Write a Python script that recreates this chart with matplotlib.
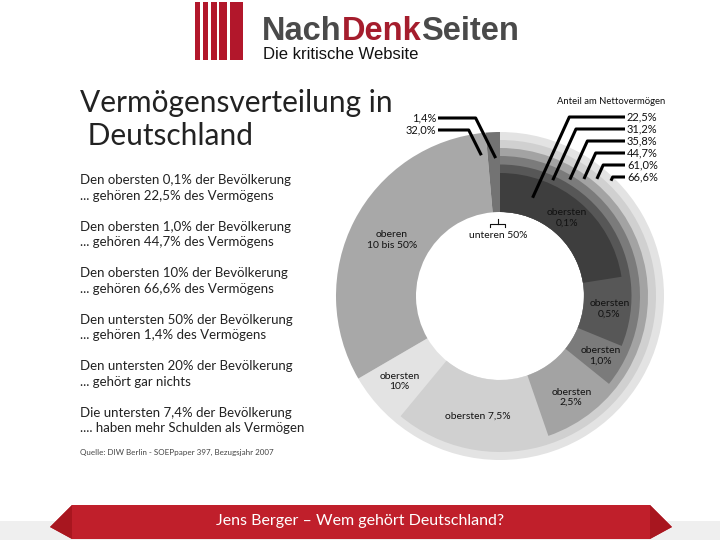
import numpy as np
import matplotlib
matplotlib.use("Agg")
import matplotlib.pyplot as plt
from matplotlib.patches import Rectangle, Polygon

plt.rcParams['font.family'] = ['Lato', 'DejaVu Sans']

# --- data ---
top_labels = ["obersten\n0,1%", "obersten\n0,5%", "obersten\n1,0%",
              "obersten\n2,5%", "obersten 7,5%", "obersten\n10%"]
top_cum = [22.5, 31.2, 35.8, 44.7, 61.0, 66.6]          # Anteil am Nettovermögen (kumuliert)
top_cum_text = ["22,5%", "31,2%", "35,8%", "44,7%", "61,0%", "66,6%"]
rest_labels = ["oberen\n10 bis 50%", "unteren 50%"]
rest_share = [32.0, 1.4]
rest_text = ["32,0%", "1,4%"]

facts = [
    ("Den obersten 0,1% der Bevölkerung", "... gehören 22,5% des Vermögens"),
    ("Den obersten 1,0% der Bevölkerung", "... gehören 44,7% des Vermögens"),
    ("Den obersten 10% der Bevölkerung", "... gehören 66,6% des Vermögens"),
    ("Den untersten 50% der Bevölkerung", "... gehören 1,4% des Vermögens"),
    ("Den untersten 20% der Bevölkerung", "... gehört gar nichts"),
    ("Die untersten 7,4% der Bevölkerung", ".... haben mehr Schulden als Vermögen"),
]
source = "Quelle: DIW Berlin - SOEPpaper 397, Bezugsjahr 2007"

# --- styling ---
top_colors = ['#3e3e3e', '#575757', '#7b7b7b', '#a3a3a3', '#d0d0d0', '#e3e3e3']
rest_colors = ['#a8a8a8', '#737373']
r_in = 84
radii = [123, 131.5, 140, 148, 156, 164]

fig = plt.figure(figsize=(7.2, 5.4), dpi=100)
bg = fig.add_axes([0, 0, 1, 1])
bg.set_xlim(0, 720)
bg.set_ylim(540, 0)
bg.axis('off')

# logo
for x0, x1 in [(195, 200), (202.7, 207.7), (210.7, 216.7), (219.3, 227.3), (230, 243.3)]:
    bg.add_patch(Rectangle((x0, 2), x1 - x0, 58, color='#b2172b', lw=0))
fig.canvas.draw()
renderer = fig.canvas.get_renderer()
x = 262
for word, col in [("Nach", '#4a4a4a'), ("Denk", '#a51d2d'), ("Seiten", '#4a4a4a')]:
    t = bg.text(x, 40, word, family=['Liberation Sans', 'DejaVu Sans'], weight='bold',
                fontsize=23.5, color=col, va='baseline', ha='left')
    bb = t.get_window_extent(renderer)
    x += bb.width
bg.text(263, 59, "Die kritische Website", family=['Liberation Sans', 'DejaVu Sans'],
        fontsize=12, color='#111111', va='baseline', ha='left')

# title
bg.text(80, 103, "Vermögensverteilung in", fontsize=21.5, color='#222222', va='center')
bg.text(80, 136, " Deutschland", fontsize=21.5, color='#222222', va='center')

# facts list
for i, (l1, l2) in enumerate(facts):
    y = 180 + i * 46.6
    bg.text(80, y, l1, fontsize=9.5, color='#222222', va='center')
    bg.text(80, y + 15.5, l2, fontsize=9.5, color='#222222', va='center')
bg.text(80, 452, source, fontsize=5.8, color='#444444', va='center')

# bottom banner
bg.add_patch(Rectangle((0, 521), 720, 19, color='#efefef', lw=0))
bg.add_patch(Polygon([(72, 505), (650, 505), (672, 527), (650, 539), (72, 539), (50, 527)],
                     closed=True, color='#c01f2b', lw=0))
bg.add_patch(Polygon([(72, 505), (50, 527), (72, 539)], closed=True, color='#a8161f', lw=0))
bg.add_patch(Polygon([(650, 505), (672, 527), (650, 539)], closed=True, color='#a8161f', lw=0))
bg.text(360, 521, "Jens Berger – Wem gehört Deutschland?", fontsize=11.5, color='white',
        ha='center', va='center')

# --- donut ---
cx, cy, half = 500, 296, 200
ax = fig.add_axes([(cx - half) / 720, (540 - cy - half) / 540, 2 * half / 720, 2 * half / 540])

# nested cumulative wedges: largest first, smaller on top
for k in reversed(range(len(top_cum))):
    ax.pie([top_cum[k], 100 - top_cum[k]], radius=radii[k], colors=[top_colors[k], (0, 0, 0, 0)],
           startangle=90, counterclock=False, wedgeprops=dict(width=radii[k] - r_in, linewidth=0))
ax.pie([top_cum[-1]] + rest_share, radius=radii[-1], colors=[(0, 0, 0, 0)] + rest_colors,
       startangle=90, counterclock=False, wedgeprops=dict(width=radii[-1] - r_in, linewidth=0))
ax.set_xlim(-half, half)
ax.set_ylim(-half, half)
ax.set_aspect('equal')
ax.axis('off')


def polar(frac, r):
    a = np.deg2rad(90 - 360 * frac / 100)
    return r * np.cos(a), r * np.sin(a)


# slice labels
starts = [0] + top_cum[:-1]
label_r = [103, 110, 117, 124, 122, 132]
for lab, s, e, r in zip(top_labels, starts, top_cum, label_r):
    px, py = polar((s + e) / 2, r)
    ax.text(px, py, lab, ha='center', va='center', fontsize=7.5, color='#111111', linespacing=1.2)
px, py = polar(top_cum[-1] + rest_share[0] / 2, 122)
ax.text(px, py, rest_labels[0], ha='center', va='center', fontsize=7.5, color='#111111', linespacing=1.2)
ax.text(-2, 60, rest_labels[1], ha='center', va='center', fontsize=7.5, color='#111111')
ax.plot([-10, -10, 5, 5], [69, 72, 72, 69], color='#111111', lw=0.8)
ax.plot([-2.5, -2.5], [72, 77], color='#111111', lw=0.8)

# leader lines right
ax.text(57, 195, "Anteil am Nettovermögen", fontsize=6.8, color='#111111', va='center', ha='left')
leader_frac = [5.1, 6.8, 8.6, 9.9, 11.0, 12.2]
inner = [r_in] + radii[:-1]
for i, (txt, f) in enumerate(zip(top_cum_text, leader_frac)):
    ly = 179 - 12 * i
    ex, ey = polar(f, (inner[i] + radii[i]) / 2)
    kx = ex + (ly - ey) / 2.2
    ax.plot([ex, kx, 125], [ey, ly, ly], color='black', lw=2.2, solid_capstyle='butt')
    ax.text(127, ly, txt, fontsize=8, color='#111111', va='center', ha='left')

# leader lines left
left_pts = [(97.9, 142, 166), (99.5, 138, 178)]
for txt, (f, r, ly) in zip(rest_text, left_pts):
    ex, ey = polar(f, r)
    kx = ex - (ly - ey) / 2.0
    ax.plot([ex, kx, -62], [ey, ly, ly], color='black', lw=2.2, solid_capstyle='butt')
    ax.text(-64, ly, txt, fontsize=8, color='#111111', va='center', ha='right')

fig.savefig("out.png", dpi=100)
